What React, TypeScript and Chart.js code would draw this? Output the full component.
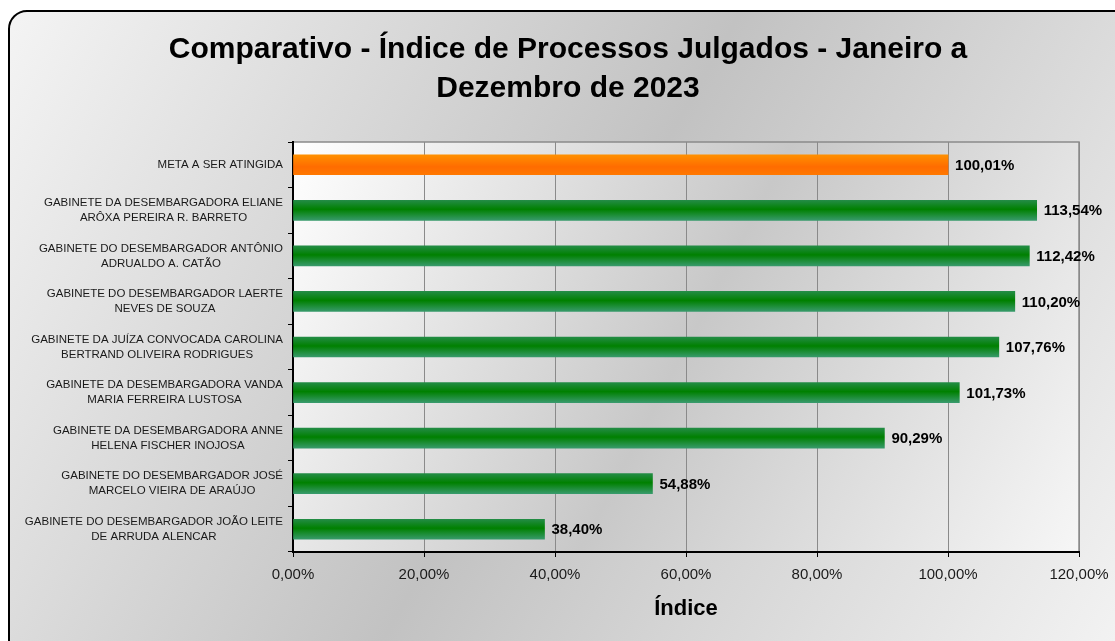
import React, { useEffect, useRef } from 'react';
import { Chart, registerables } from 'chart.js';

Chart.register(...registerables);

// ---- Data ----
const categories: string[][] = [
  ['META A SER ATINGIDA'],
  ['GABINETE DA DESEMBARGADORA ELIANE', 'ARÔXA PEREIRA R. BARRETO'],
  ['GABINETE DO DESEMBARGADOR ANTÔNIO', 'ADRUALDO A. CATÃO'],
  ['GABINETE DO DESEMBARGADOR LAERTE', 'NEVES DE SOUZA'],
  ['GABINETE DA JUÍZA CONVOCADA CAROLINA', 'BERTRAND OLIVEIRA RODRIGUES'],
  ['GABINETE DA DESEMBARGADORA VANDA', 'MARIA FERREIRA LUSTOSA'],
  ['GABINETE DA DESEMBARGADORA ANNE', 'HELENA FISCHER INOJOSA'],
  ['GABINETE DO DESEMBARGADOR JOSÉ', 'MARCELO VIEIRA DE ARAÚJO'],
  ['GABINETE DO DESEMBARGADOR JOÃO LEITE', 'DE ARRUDA ALENCAR'],
];
const values: number[] = [100.01, 113.54, 112.42, 110.2, 107.76, 101.73, 90.29, 54.88, 38.4];
const titleLines: string[] = ['Comparativo - Índice de Processos Julgados - Janeiro a', 'Dezembro de 2023'];
const axisTitle = 'Índice';
const xMin = 0;
const xMax = 120;
const xStep = 20;

const FONT = '"Liberation Sans", Arial, Helvetica, sans-serif';
const W = 1115;
const H = 641;

const fmt = (v: number) => v.toFixed(2).replace('.', ',') + '%';

const backgroundPlugin = {
  id: 'bgPlugin',
  beforeDraw(chart: any) {
    const ctx = chart.ctx as CanvasRenderingContext2D;
    const ca = chart.chartArea;
    ctx.save();
    ctx.fillStyle = '#ffffff';
    ctx.fillRect(0, 0, W, H);
    // outer rounded box
    const g = ctx.createLinearGradient(9, 11, W, H);
    g.addColorStop(0, '#f4f4f4');
    g.addColorStop(0.5, '#c2c2c2');
    g.addColorStop(1, '#f2f2f2');
    ctx.beginPath();
    (ctx as any).roundRect(9, 11, W + 30, H + 30, 18);
    ctx.fillStyle = g;
    ctx.fill();
    ctx.lineWidth = 2;
    ctx.strokeStyle = '#000000';
    ctx.stroke();
    // plot area
    const g2 = ctx.createLinearGradient(ca.left, ca.top, ca.right, ca.bottom);
    g2.addColorStop(0, '#ffffff');
    g2.addColorStop(0.5, '#c8c8c8');
    g2.addColorStop(1, '#f6f6f6');
    ctx.fillStyle = g2;
    ctx.fillRect(ca.left, ca.top, ca.right - ca.left, ca.bottom - ca.top);
    ctx.strokeStyle = '#8a8a8a';
    ctx.lineWidth = 1.5;
    ctx.beginPath();
    ctx.moveTo(ca.left, ca.top);
    ctx.lineTo(ca.right, ca.top);
    ctx.lineTo(ca.right, ca.bottom);
    ctx.stroke();
    // title
    ctx.fillStyle = '#000000';
    ctx.font = `bold 30px ${FONT}`;
    ctx.textAlign = 'center';
    ctx.textBaseline = 'alphabetic';
    titleLines.forEach((t, i) => ctx.fillText(t, 568, 58 + i * 39));
    ctx.restore();
  },
  afterDraw(chart: any) {
    const ctx = chart.ctx as CanvasRenderingContext2D;
    const ys = chart.scales.y;
    ctx.save();
    ctx.font = `11.5px ${FONT}`;
    ctx.fillStyle = '#1a1a1a';
    ctx.textAlign = 'center';
    ctx.textBaseline = 'middle';
    const right = ys.right - 10;
    categories.forEach((lines, i) => {
      const cy = ys.getPixelForValue(i);
      const bw = Math.max(...lines.map((l) => ctx.measureText(l).width));
      const cx = right - bw / 2;
      const lh = 15;
      const start = cy - ((lines.length - 1) * lh) / 2;
      lines.forEach((l, j) => ctx.fillText(l, cx, start + j * lh));
    });
    // data labels
    const meta = chart.getDatasetMeta(0);
    ctx.font = `bold 15px ${FONT}`;
    ctx.fillStyle = '#000000';
    ctx.textAlign = 'left';
    meta.data.forEach((bar: any, i: number) => {
      ctx.fillText(fmt(values[i]), bar.x + 7, bar.y + 1);
    });
    ctx.restore();
  },
};

export default function App() {
  const ref = useRef<HTMLCanvasElement>(null);
  useEffect(() => {
    document.body.style.margin = '0';
    const chart = new Chart(ref.current as HTMLCanvasElement, {
      type: 'bar',
      data: {
        labels: categories.map((c) => c.join(' ')),
        datasets: [
          {
            data: values,
            barThickness: 20,
            borderWidth: 0,
            backgroundColor: (c: any) => {
              const i = c.dataIndex;
              const chartRef = c.chart;
              const fallback = i === 0 ? '#ff7400' : '#008000';
              const ys = chartRef.scales && chartRef.scales.y;
              if (i === undefined || !ys) return fallback;
              const py = ys.getPixelForValue(i);
              if (!isFinite(py)) return fallback;
              const gr = chartRef.ctx.createLinearGradient(0, py - 10, 0, py + 10);
              if (i === 0) {
                gr.addColorStop(0, '#ff9000');
                gr.addColorStop(0.6, '#ff6c00');
                gr.addColorStop(1, '#ff7800');
              } else {
                gr.addColorStop(0, '#238c45');
                gr.addColorStop(0.45, '#008000');
                gr.addColorStop(1, '#379a6a');
              }
              return gr;
            },
          },
        ],
      },
      options: {
        indexAxis: 'y',
        responsive: false,
        animation: false,
        layout: { padding: { top: 142, left: 0, right: 36, bottom: 0 } },
        plugins: {
          legend: { display: false },
          tooltip: { enabled: false },
          title: { display: false },
        },
        scales: {
          y: {
            type: 'category',
            ticks: { display: false },
            grid: {
              display: true,
              drawOnChartArea: false,
              drawTicks: true,
              tickLength: 5,
              offset: true,
              color: '#000000',
              lineWidth: 1,
            },
            border: { display: true, color: '#000000', width: 2 },
            afterFit: (s: any) => {
              s.width = 293;
            },
          },
          x: {
            type: 'linear',
            min: xMin,
            max: xMax,
            ticks: {
              stepSize: xStep,
              callback: (v: any) => fmt(Number(v)),
              font: { family: FONT, size: 15 },
              color: '#1a1a1a',
              padding: 9,
              maxRotation: 0,
              autoSkip: false,
            },
            grid: {
              color: '#8a8a8a',
              lineWidth: 1,
              tickLength: 5,
              tickColor: '#000000',
            },
            border: { display: true, color: '#000000', width: 2 },
            title: {
              display: true,
              text: axisTitle,
              font: { family: FONT, size: 22, weight: 'bold' },
              color: '#000000',
              padding: { top: 0, bottom: 19 },
            },
            afterFit: (s: any) => {
              s.height = 89;
              s.paddingRight = 0;
              s.paddingLeft = 0;
            },
          },
        },
      },
      plugins: [backgroundPlugin],
    } as any);
    return () => chart.destroy();
  }, []);
  return (
    <div style={{ width: W, height: H }}>
      <canvas ref={ref} width={W} height={H} style={{ display: 'block' }} />
    </div>
  );
}
